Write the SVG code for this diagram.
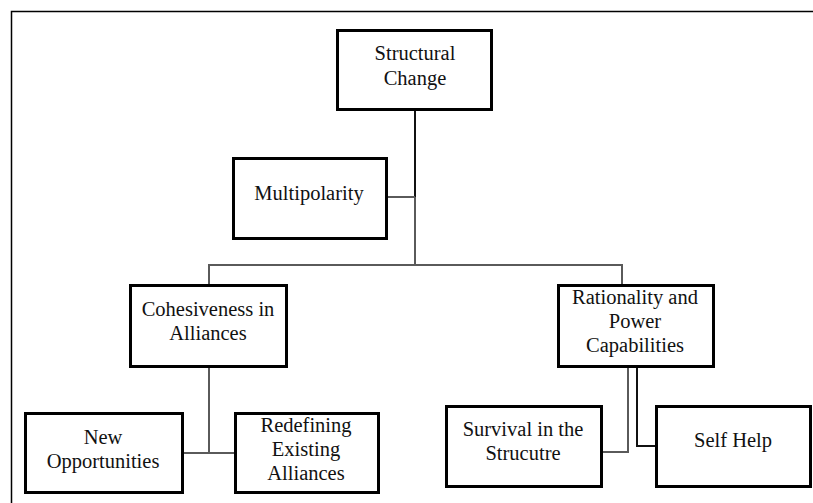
<svg xmlns="http://www.w3.org/2000/svg" width="813" height="503" viewBox="0 0 813 503">
<style>
.box{fill:#fff;stroke:#000;stroke-width:3}
.lbl{font-family:"Liberation Serif","Times New Roman",serif;font-size:20.5px;fill:#111;text-anchor:middle}
.ln{fill:none;stroke:#5a5a5a;stroke-width:2}
.dk{fill:none;stroke:#111;stroke-width:2}
</style>
<rect width="813" height="503" fill="#fff"/>
<path d="M11.5,503 V11.5 H813" fill="none" stroke="#000" stroke-width="1.5"/>
<g id="connectors">
<path class="dk" d="M415,110 V197"/>
<path class="ln" d="M415,197 V265 M387,197 H415"/>
<path class="ln" d="M209,284 V265 H622 V284"/>
<path class="ln" d="M209,367 V453 M183,453 H234"/>
<path class="ln" d="M628,367 V452 H602"/>
<path class="dk" d="M637,367 V446 H655"/>
</g>
<g id="structural-change">
<rect class="box" x="337.5" y="30.5" width="154" height="79"/>
<text class="lbl" x="415" y="60">Structural</text>
<text class="lbl" x="415" y="85">Change</text>
</g>
<g id="multipolarity">
<rect class="box" x="233.5" y="158.5" width="153" height="80"/>
<text class="lbl" x="309" y="200">Multipolarity</text>
</g>
<g id="cohesiveness">
<rect class="box" x="130.5" y="285.5" width="156" height="81"/>
<text class="lbl" x="208" y="316">Cohesiveness in</text>
<text class="lbl" x="208" y="340">Alliances</text>
</g>
<g id="rationality">
<rect class="box" x="558.5" y="285.5" width="155" height="81"/>
<text class="lbl" x="635" y="304">Rationality and</text>
<text class="lbl" x="635" y="328">Power</text>
<text class="lbl" x="635" y="352">Capabilities</text>
</g>
<g id="new-opportunities">
<rect class="box" x="25.5" y="413.5" width="157" height="79"/>
<text class="lbl" x="103" y="444">New</text>
<text class="lbl" x="103" y="468">Opportunities</text>
</g>
<g id="redefining">
<rect class="box" x="235.5" y="413.5" width="143" height="79"/>
<text class="lbl" x="306" y="432">Redefining</text>
<text class="lbl" x="306" y="456">Existing</text>
<text class="lbl" x="306" y="480">Alliances</text>
</g>
<g id="survival">
<rect class="box" x="446.5" y="406.5" width="155" height="80"/>
<text class="lbl" x="523" y="436">Survival in the</text>
<text class="lbl" x="523" y="460">Strucutre</text>
</g>
<g id="self-help">
<rect class="box" x="656.5" y="406.5" width="154" height="80"/>
<text class="lbl" x="733" y="447">Self Help</text>
</g>
</svg>
